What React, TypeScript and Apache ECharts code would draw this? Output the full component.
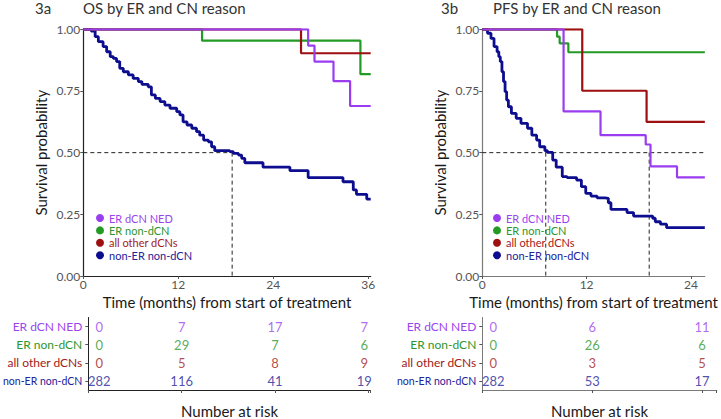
import React, { useEffect, useRef } from "react";
import * as echarts from "echarts";

// ---------- data ----------
const groups = ["ER dCN NED", "ER non-dCN", "all other dCNs", "non-ER non-dCN"];
const lineColors = ["#9a3cf0", "#239a23", "#9e0f0f", "#0d0d8f"];
const textColors = ["#9b45ee", "#2e962e", "#a32020", "#22229a"];

// OS (panel 3a): [time, survival]
const osNed = [[0, 1], [28.4, 0.934], [29.2, 0.869], [31.6, 0.79], [33.7, 0.689], [36.3, 0.689]];
const osErNon = [[0, 1], [15, 0.954], [35, 0.818], [36.3, 0.818]];
const osOther = [[0, 1], [27.5, 0.903], [36.3, 0.903]];
const osNonEr = [
  [0, 1], [1.0, 0.993], [1.5, 0.97], [1.9, 0.95], [2.5, 0.93], [2.95, 0.909], [3.4, 0.889], [3.8, 0.882],
  [4.2, 0.869], [4.6, 0.842], [5.05, 0.828], [5.7, 0.815], [6.3, 0.801], [6.95, 0.788], [7.4, 0.777],
  [8.2, 0.767], [8.6, 0.734], [9.1, 0.72], [9.7, 0.707], [10.3, 0.693], [10.95, 0.68], [11.8, 0.666],
  [12.2, 0.653], [12.6, 0.625], [13.1, 0.612], [13.7, 0.599], [14.3, 0.585], [14.7, 0.571], [15.2, 0.551],
  [15.8, 0.544], [16.2, 0.524], [16.6, 0.508], [18.5, 0.504], [18.95, 0.497], [19.6, 0.49], [20.0, 0.477],
  [20.4, 0.459], [22.7, 0.441], [26.1, 0.427], [28.4, 0.399], [32.8, 0.382], [34.1, 0.349], [34.5, 0.331],
  [35.8, 0.312], [36.3, 0.312],
];
const osMedians = [18.8];

// PFS (panel 3b)
const pfsNed = [[0, 1], [9.35, 0.667], [13.6, 0.571], [18.8, 0.533], [19.35, 0.444], [22.4, 0.4], [25.6, 0.4]];
const pfsErNon = [[0, 1], [8.6, 0.97], [8.9, 0.943], [9.9, 0.907], [25.6, 0.907]];
const pfsOther = [[0, 1], [11.5, 0.751], [18.9, 0.625], [25.6, 0.625]];
const pfsNonEr = [
  [0, 1], [0.6, 0.984], [1.0, 0.963], [1.35, 0.93], [1.7, 0.909], [1.9, 0.889], [2.07, 0.869], [2.26, 0.828],
  [2.44, 0.788], [2.62, 0.747], [2.8, 0.713], [3.0, 0.686], [3.35, 0.659], [3.9, 0.639], [4.45, 0.619],
  [5.2, 0.599], [5.7, 0.571], [6.25, 0.551], [6.6, 0.524], [7.2, 0.508], [7.5, 0.501], [8.1, 0.47],
  [8.5, 0.441], [9.2, 0.403], [9.75, 0.399], [10.85, 0.389], [11.4, 0.362], [11.9, 0.335], [12.5, 0.324],
  [13.2, 0.317], [14.1, 0.315], [14.5, 0.297], [14.8, 0.27], [16.65, 0.257], [17.4, 0.243], [19.6, 0.234],
  [19.9, 0.22], [20.5, 0.21], [21.2, 0.196], [25.6, 0.196],
];
const pfsMedians = [7.3, 19.2];

// Number at risk
const osRiskTimes = [0, 12, 24, 36];
const osRisk = [[0, 7, 17, 7], [0, 29, 7, 6], [0, 5, 8, 9], [282, 116, 41, 19]];
const pfsRiskTimes = [0, 12, 24];
const pfsRisk = [[0, 6, 11], [0, 26, 6], [0, 3, 5], [282, 53, 17]];

// ---------- layout ----------
const FONT = "Lato";
const OS_MAX = 36.3;
const PFS_MAX = 25.6;

export default function App() {
  const ref = useRef<HTMLDivElement>(null);
  useEffect(() => {
    if (!ref.current) return;
    const chart = echarts.init(ref.current, null, { renderer: "svg" });

    const panels = [
      { max: OS_MAX, left: 83.3, width: 287.4, axisColor: "#222", curves: [osNed, osErNon, osOther, osNonEr], medians: osMedians, hLineEnd: osMedians[0], riskTimes: osRiskTimes, risk: osRisk },
      { max: PFS_MAX, left: 482.3, width: 234.4, axisColor: "#7a7a7a", curves: [pfsNed, pfsErNon, pfsOther, pfsNonEr], medians: pfsMedians, hLineEnd: PFS_MAX, riskTimes: pfsRiskTimes, risk: pfsRisk },
    ];

    const grid: any[] = [];
    const xAxis: any[] = [];
    const yAxis: any[] = [];
    const series: any[] = [];
    const cats = groups.slice().reverse();
    const richKeys = ["a", "b", "c", "d"];
    const rich: any = {};
    groups.forEach((g, i) => {
      rich[richKeys[i]] = { color: textColors[i], fontSize: i === 3 ? 10.5 : 12, fontFamily: FONT };
    });

    panels.forEach((p, pi) => {
      grid.push({ left: p.left, top: 29.3, width: p.width, height: 246.7 });
      grid.push({ left: p.left, top: 317.5, width: p.width, height: 76 });
      const kmIdx = pi * 2;
      const tIdx = pi * 2 + 1;
      xAxis.push({
        gridIndex: kmIdx, type: "value", min: 0, max: p.max, interval: 12,
        name: "Time (months) from start of treatment", nameLocation: "middle", nameGap: 17,
        nameTextStyle: { fontSize: 15, color: "#1a1a1a", fontFamily: FONT },
        axisLine: { show: true, lineStyle: { color: p.axisColor, width: 1.2 } },
        axisTick: { show: true, length: 3, lineStyle: { color: "#555" } },
        axisLabel: { color: "#555", fontSize: 12, margin: 2, fontFamily: FONT, showMaxLabel: false },
        splitLine: { show: false },
      });
      yAxis.push({
        gridIndex: kmIdx, type: "value", min: 0, max: 1, interval: 0.25,
        name: "Survival probability", nameLocation: "middle", nameGap: 35, nameRotate: 90,
        nameTextStyle: { fontSize: 15, color: "#1a1a1a", fontFamily: FONT },
        axisLine: { show: true, lineStyle: { color: p.axisColor, width: 1.2 } },
        axisTick: { show: true, length: 3, lineStyle: { color: "#555" } },
        axisLabel: { color: "#555", fontSize: 12, margin: 3, fontFamily: FONT, formatter: (v: number) => v.toFixed(2) },
        splitLine: { show: false },
      });
      xAxis.push({
        gridIndex: tIdx, type: "value", min: 0, max: p.max, interval: 12,
        name: "Number at risk", nameLocation: "middle", nameGap: 13,
        nameTextStyle: { fontSize: 15, color: "#1a1a1a", fontFamily: FONT },
        axisLine: { show: true, lineStyle: { color: p.axisColor, width: 1 } },
        axisTick: { show: true, length: 3, lineStyle: { color: "#555" } },
        axisLabel: { show: false },
        splitLine: { show: false },
      });
      yAxis.push({
        gridIndex: tIdx, type: "category", data: cats, boundaryGap: true,
        axisLine: { show: true, lineStyle: { color: p.axisColor, width: 1 } },
        axisTick: { show: true, length: 3, alignWithLabel: true, lineStyle: { color: "#555" } },
        axisLabel: {
          margin: 6,
          formatter: (v: string) => `{${richKeys[groups.indexOf(v)]}|${v}}`,
          rich,
        },
        splitLine: { show: false },
      });

      series.push({
        type: "line", xAxisIndex: kmIdx, yAxisIndex: kmIdx, showSymbol: false, silent: true,
        data: [[0, 0.5], [p.hLineEnd, 0.5]],
        lineStyle: { color: "#222", width: 1, type: [4, 3] },
      });
      p.medians.forEach((m) => {
        series.push({
          type: "line", xAxisIndex: kmIdx, yAxisIndex: kmIdx, showSymbol: false, silent: true,
          data: [[m, 0.5], [m, 0]],
          lineStyle: { color: "#222", width: 1, type: [4, 3] },
        });
      });
      [3, 1, 2, 0].forEach((gi) => {
        series.push({
          name: groups[gi], type: "line", step: "end", xAxisIndex: kmIdx, yAxisIndex: kmIdx,
          showSymbol: false, symbol: "circle", data: p.curves[gi],
          color: lineColors[gi],
          lineStyle: { color: lineColors[gi], width: gi === 3 ? 2.8 : 2.2 },
        });
      });
      groups.forEach((g, gi) => {
        series.push({
          type: "scatter", xAxisIndex: tIdx, yAxisIndex: tIdx, silent: true,
          symbolSize: 1, itemStyle: { color: "rgba(0,0,0,0)" },
          data: p.riskTimes.map((t, ti) => ({
            value: [t, g, p.risk[gi][ti]],
            label: { offset: [t === 0 ? 11 : (t > p.max - 1 ? -4 : 0), 0] },
          })),
          label: {
            show: true, position: "inside", color: textColors[gi], fontSize: 13, fontFamily: FONT,
            formatter: (d: any) => String(d.value[2]),
          },
        });
      });
    });

    const legendData = groups.map((g, i) => ({ name: g, textStyle: { color: textColors[i] } }));
    const legendBase = {
      orient: "vertical", top: 212, itemWidth: 8, itemHeight: 8, itemGap: 0.4, icon: "circle",
      selectedMode: false, padding: 0,
      textStyle: { fontSize: 11, lineHeight: 12, fontFamily: FONT },
      data: legendData,
    };

    chart.setOption({
      animation: false,
      textStyle: { fontFamily: FONT },
      title: [
        { text: "3a", left: 35, top: 0, padding: 0, textStyle: { fontSize: 15, fontWeight: "normal", color: "#333", fontFamily: FONT } },
        { text: "OS by ER and CN reason", left: 83, top: 0, padding: 0, textStyle: { fontSize: 15, fontWeight: "normal", color: "#333", fontFamily: FONT } },
        { text: "3b", left: 441, top: 0, padding: 0, textStyle: { fontSize: 15, fontWeight: "normal", color: "#333", fontFamily: FONT } },
        { text: "PFS by ER and CN reason", left: 493, top: 0, padding: 0, textStyle: { fontSize: 15, fontWeight: "normal", color: "#333", fontFamily: FONT } },
      ],
      legend: [
        { ...legendBase, left: 96 },
        { ...legendBase, left: 493 },
      ],
      grid, xAxis, yAxis, series,
    });
    return () => chart.dispose();
  }, []);

  return <div ref={ref} style={{ width: 721, height: 419, position: "absolute", left: 0, top: 0, background: "#fff" }} />;
}
